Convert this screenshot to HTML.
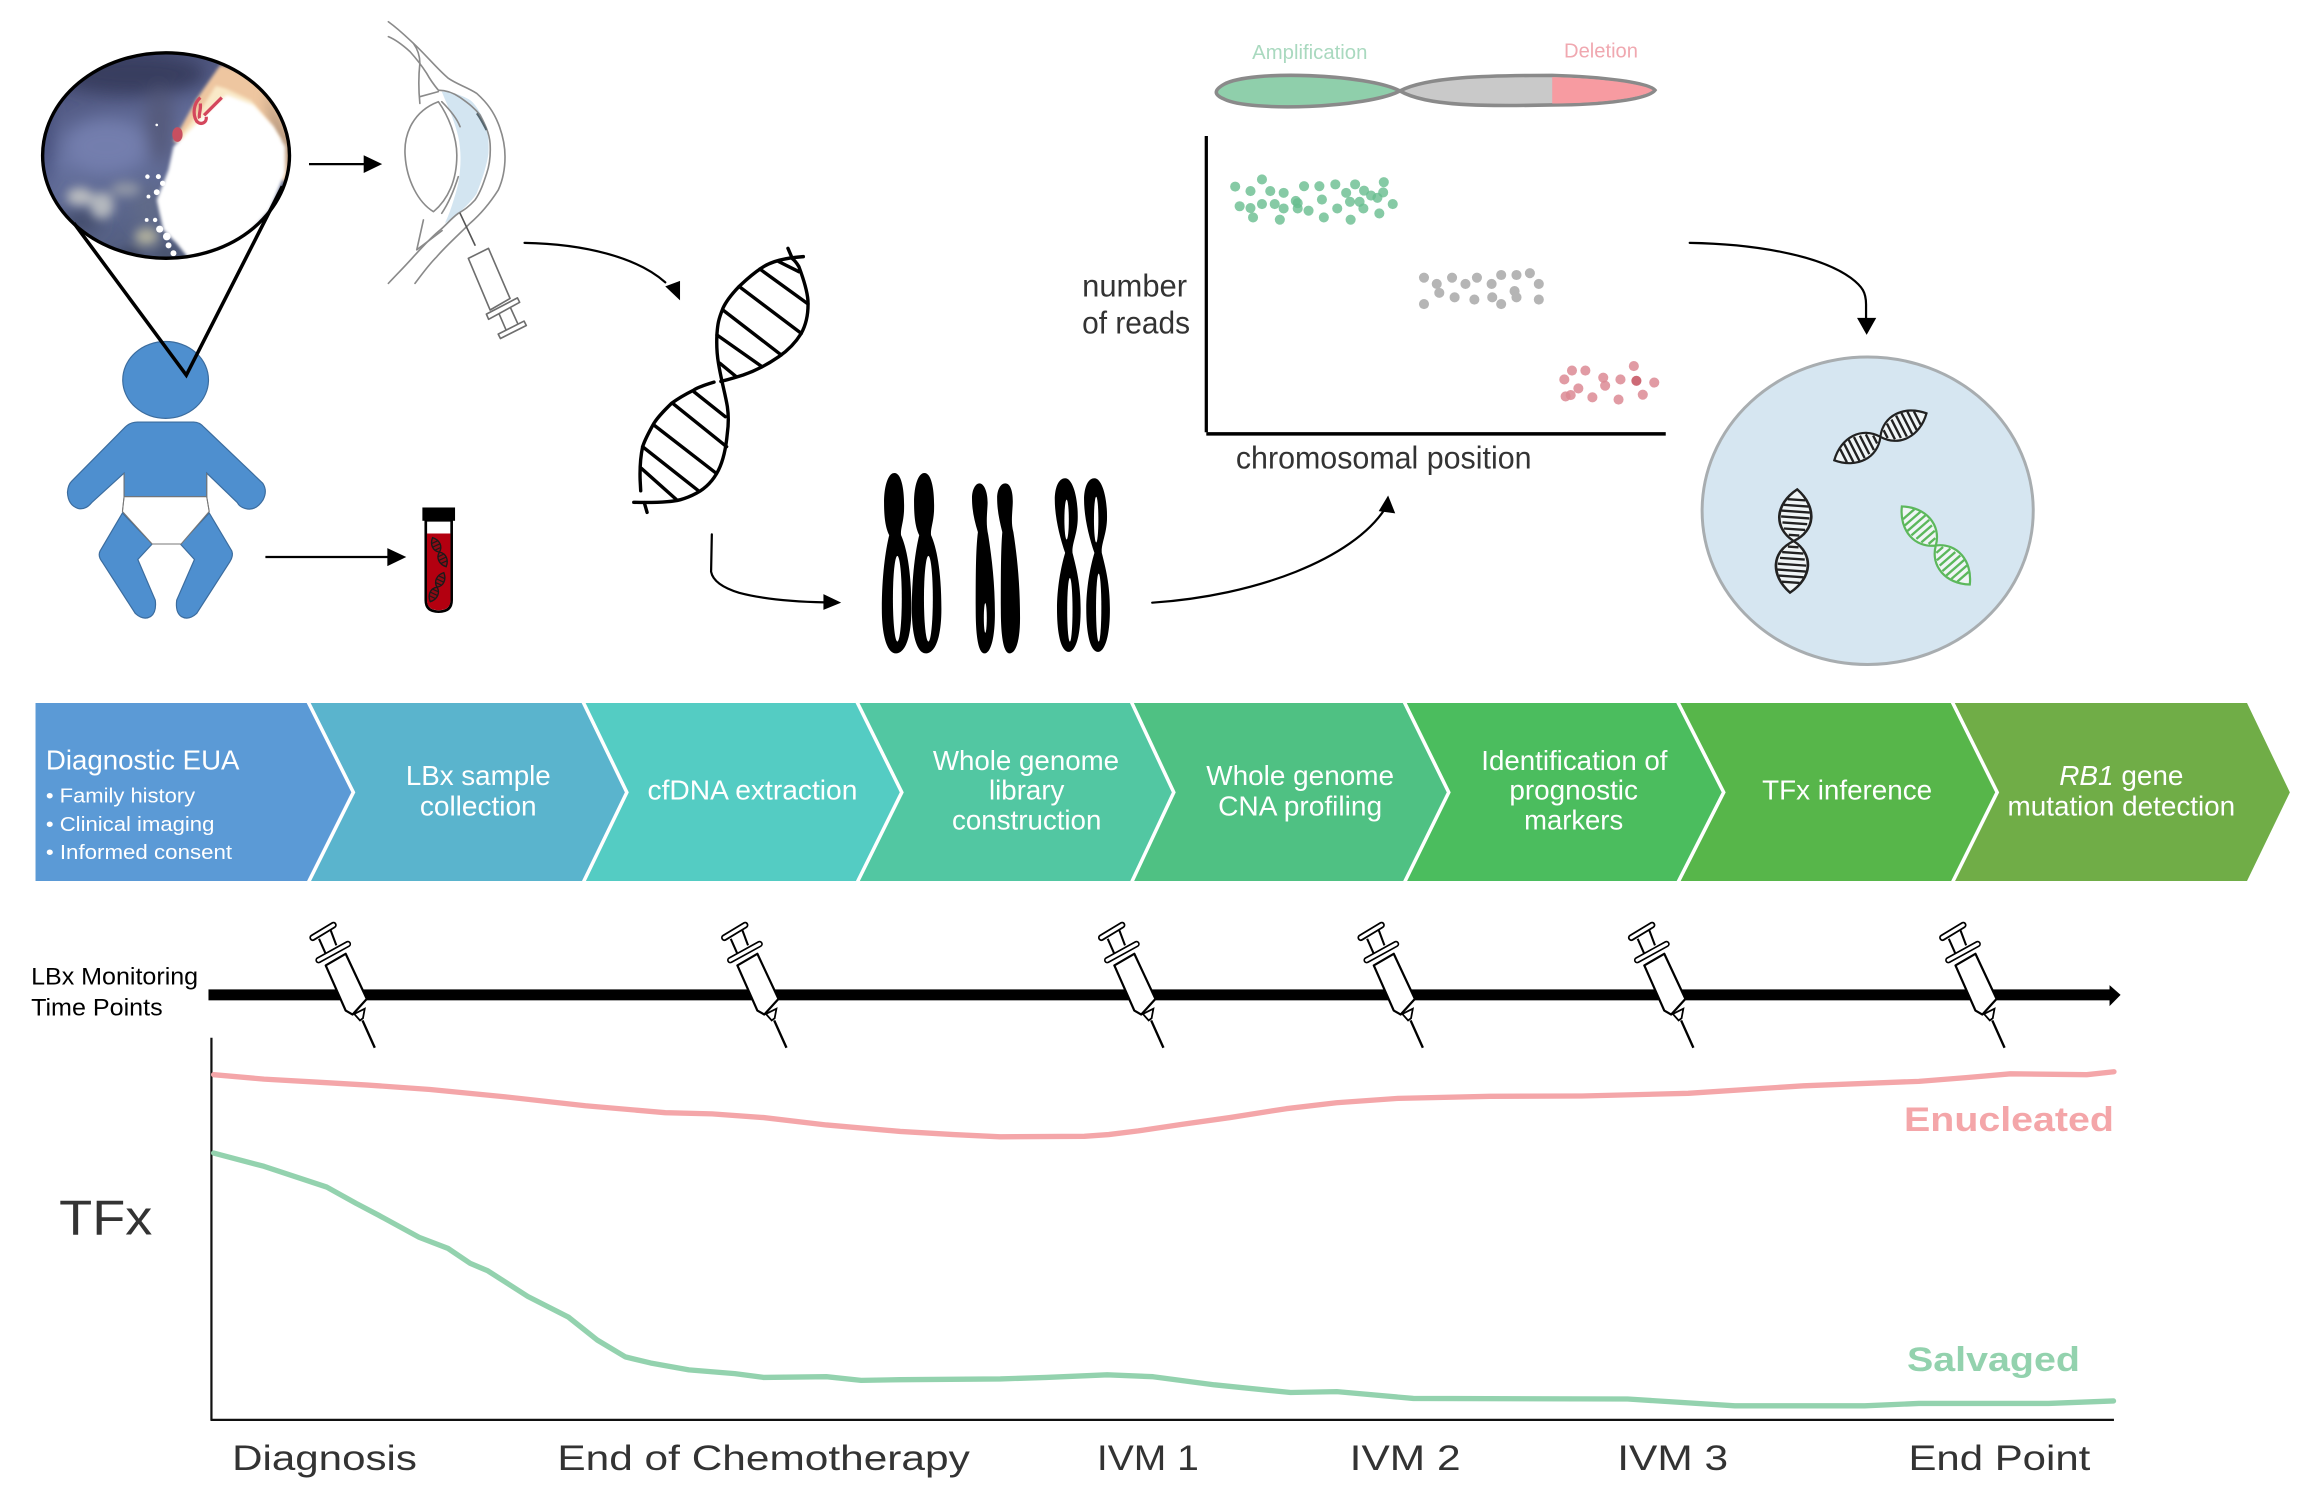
<!DOCTYPE html>
<html><head><meta charset="utf-8">
<style>
html,body{margin:0;padding:0;background:#fff}
svg{display:block}
text{font-family:"Liberation Sans",sans-serif}
.c{font-size:18.5px;fill:#fff;text-anchor:middle;font-weight:400}
.s{font-size:14px;fill:#fff}
.b{font-size:24px;fill:#333}
.p{fill:none;stroke-linejoin:round;stroke-linecap:round}
.dg ellipse,.dy ellipse,.dr ellipse{rx:7.9px;ry:11.3px}
</style></head><body>
<svg width="2318" height="1496" viewBox="0 0 1568 1012" xmlns="http://www.w3.org/2000/svg">
<defs>
<clipPath id="cp"><ellipse cx="112.3" cy="105.2" rx="83.5" ry="69.5"/></clipPath>
<filter id="bl" x="-50%" y="-50%" width="200%" height="200%"><feGaussianBlur stdDeviation="6"/></filter>
<filter id="bm" x="-50%" y="-50%" width="200%" height="200%"><feGaussianBlur stdDeviation="3.5"/></filter>
<filter id="bs" x="-50%" y="-50%" width="200%" height="200%"><feGaussianBlur stdDeviation="1.1"/></filter>
<linearGradient id="ph" x1="0" y1="0" x2="0.3" y2="1"><stop offset="0" stop-color="#3a3e63"/><stop offset=".5" stop-color="#6772a0"/><stop offset="1" stop-color="#4f5a7a"/></linearGradient>
<g id="syr">
<line x1="-42" y1="-74.500" x2="-28" y2="-83" stroke="#000" stroke-width="4.600" stroke-linecap="round"/>
<line x1="-42" y1="-74.500" x2="-28" y2="-83" stroke="#fff" stroke-width="2.200" stroke-linecap="round"/>
<line x1="-37.700" y1="-73.700" x2="-33.200" y2="-63.600" stroke="#000" stroke-width="1.400"/>
<line x1="-29.800" y1="-79.400" x2="-26" y2="-69.300" stroke="#000" stroke-width="1.400"/>
<path d="M-33.200,-55.700 L-19.700,-25.200 L-15,-22.500 L-5.400,-33.100 L-19.700,-63.600Z" fill="#fff" stroke="#000" stroke-width="1.500" stroke-linejoin="round"/>
<line x1="-38" y1="-59.300" x2="-18.200" y2="-70.200" stroke="#000" stroke-width="4.400" stroke-linecap="round"/>
<line x1="-38" y1="-59.300" x2="-18.200" y2="-70.200" stroke="#fff" stroke-width="2.200" stroke-linecap="round"/>
<path d="M-13.900,-22.900 L-6.800,-26.400 L-8,-20 L-10,-18.500Z" fill="#fff" stroke="#000" stroke-width="1.200"/>
<line x1="-8.300" y1="-18.500" x2="0" y2="0" stroke="#000" stroke-width="1.600"/>
</g>
<g id="mini">
<path d="M0,-35 C-12,-24 -12,-8 0,0 C12,-8 12,-24 0,-35Z M0,0 C-12,8 -12,24 0,35 C12,24 12,8 0,0Z" fill="#f5f7f7" fill-opacity=".85" stroke="currentColor" stroke-width="1.500"/>
<path d="M-5,-28H5M-7,-24H7M-8,-20H8M-8,-16H8M-7,-12H7M-6,-8H6M-3,-4H3M-3,4H3M-6,8H6M-7,12H7M-8,16H8M-8,20H8M-7,24H7M-5,28H5" stroke="currentColor" stroke-width="1.600" fill="none"/>
</g>
<g id="mini2">
<path d="M0,-35 C-12,-24 -12,-8 0,0 C12,-8 12,-24 0,-35Z M0,0 C-12,8 -12,24 0,35 C12,24 12,8 0,0Z" fill="#8f0a14" stroke="#1a1a1a" stroke-width="3"/>
<path d="M-7,-24H7M-8,-16H8M-6,-8H6M-6,8H6M-8,16H8M-7,24H7" stroke="#1a1a1a" stroke-width="2.500" fill="none"/>
</g>
</defs>
<rect width="1568" height="1012" fill="#fff"/>

<!-- retinal photo -->
<g clip-path="url(#cp)">
<rect x="20" y="30" width="185" height="155" fill="url(#ph)"/>
<g filter="url(#bl)">
<ellipse cx="90" cy="50" rx="50" ry="14" fill="#393c5f"/>
<ellipse cx="108" cy="85" rx="10" ry="26" fill="#555a7c"/>
<ellipse cx="72" cy="99" rx="28" ry="18" fill="#737ead"/>
<ellipse cx="30" cy="95" rx="5" ry="32" fill="#424c78"/>
<ellipse cx="55" cy="150" rx="14" ry="7" fill="#3f4a68"/>
<ellipse cx="100" cy="140" rx="10" ry="14" fill="#606b88"/>
</g>
<g filter="url(#bm)">
<ellipse cx="54" cy="133" rx="9" ry="6" fill="#b9bcc0"/>
<ellipse cx="69" cy="139" rx="8" ry="9" fill="#b4b8be"/>
<ellipse cx="85" cy="128" rx="10" ry="5" fill="#8f95a6"/>
<ellipse cx="99" cy="160" rx="8" ry="6" fill="#aeae9e"/>
<ellipse cx="88" cy="172" rx="9" ry="4" fill="#3f4a66"/>
<ellipse cx="112" cy="172" rx="7" ry="5" fill="#4a5470"/>
</g>
<path d="M149,44 L172,50 L200,90 L197,125 L150,100 L117,96 L133,67Z" fill="#eec6a0" filter="url(#bs)"/>
<path d="M178,62 L198,95 L196,125 L186,95Z" fill="#b89a80" filter="url(#bm)"/>
<path d="M146,58 L153,60 L170,68 L190,95 L150,100 L122,92 L136,74Z" fill="#f9e9c8" filter="url(#bs)"/>
<path d="M153.400,64.200 L171.400,71 L185,85.600 L192.800,99.200 L192.800,117.200 L182.700,142 L164.600,162.300 L128.600,176 L119.500,164.600 L110.500,155.600 L106,135.300 L113.900,115 L117.300,99.200 L128.600,87.900 L146.600,69.800Z" fill="#fff" filter="url(#bs)"/>
<path d="M135.500,66 C131,70 130,77 133,82 C136,85 140,83 139.500,79 M135.500,70 C136,75 134,78 135,80 M138,78 C142,74 146,70 150,66" fill="none" stroke="#d4465c" stroke-width="2.200"/>
<ellipse cx="120" cy="91" rx="3.500" ry="5" fill="#c84f60"/>
<g fill="#fff"><circle cx="99.700" cy="119.500" r="1.500"/><circle cx="107.100" cy="119.500" r="1.700"/><circle cx="106" cy="84.500" r=".9"/><circle cx="100.400" cy="133" r="1.300"/><circle cx="99.200" cy="148.800" r="1.300"/><circle cx="104.900" cy="148.800" r="1.500"/><circle cx="110" cy="124" r="1.800"/><circle cx="106" cy="130" r="2"/><circle cx="108" cy="155" r="2.400"/><circle cx="112.800" cy="160" r="2.600"/><circle cx="117.300" cy="171.300" r="2"/><circle cx="114" cy="166" r="2"/></g>
</g>
<ellipse cx="112.300" cy="105.200" rx="83.500" ry="69.500" fill="none" stroke="#000" stroke-width="2.300"/>

<!-- baby -->
<g fill="#4E8FCF" stroke="#3b6c9e" stroke-width=".8">
<ellipse cx="112" cy="257" rx="29" ry="26"/>
<path d="M93,285.500 H131 Q135,285.500 138,289 L177.800,327 Q181,332 178,338 Q173,346 166,344 Q162,343 160.500,340 L139.800,320 V336 H83.900 V320 L62,340 Q58,345 53,344 Q46,342 45.600,333 Q46,328 48.300,325.700 L84.600,289 Q88,285.500 93,285.500Z"/>
<path d="M82.800,347 L102.900,368 L93.200,378.500 L105,406 Q106,414 102,417 Q97,420 91.500,415 L69,380 Q66,376 67.700,372.700Z"/>
<path d="M141.500,347 L122,368 L131.500,378.500 L119.500,406 Q118.500,414 122.500,417 Q127.500,420 133,415 L155.500,380 Q158,376 156.800,372.700Z"/>
</g>
<path d="M83.900,336 H139.800 L141.500,346 L122.500,368 H102.900 L82.800,346Z" fill="#fff" stroke="#777" stroke-width=".7"/>
<path d="M83.900,320 V336 L82.800,346 M139.800,320 V336 L141.500,346" fill="none" stroke="#777" stroke-width=".7"/>

<!-- triangle -->
<polyline points="50,151 126,253.800 191,126" fill="none" stroke="#000" stroke-width="2.400" stroke-linejoin="miter"/>

<!-- straight arrows -->
<line x1="209" y1="111" x2="248" y2="111" stroke="#000" stroke-width="1.500"/>
<polygon points="246,105 258.500,111 246,117"/>
<line x1="179.500" y1="376.800" x2="264" y2="376.800" stroke="#000" stroke-width="1.500"/>
<polygon points="262,370.800 274.800,376.800 262,383"/>

<!-- tube -->
<path d="M288,352 H305.500 V406 Q305.500,413.800 296.700,413.800 Q288,413.800 288,406Z" fill="#fff" stroke="#000" stroke-width="1.800"/>
<path d="M288.800,360.900 H304.700 V406 Q304.700,412.800 296.700,412.800 Q288.800,412.800 288.800,406Z" fill="#b30010"/>
<rect x="285.700" y="343.300" width="22.100" height="9" fill="#000"/>
<use href="#mini2" transform="translate(297.200,373.500) rotate(-25) scale(.31)"/>
<use href="#mini2" transform="translate(295.600,397.200) rotate(25) scale(.31)"/>

<!-- eye -->
<path d="M298.800,62 C309,62 318,67.700 318,67.700 C324,72 329.200,85.700 329.200,85.700 C331,92 330.400,103.700 330.400,103.700 C329,115 322.500,130.800 322.500,130.800 C315,142 301,151 301,151 C306,141 310,124 310,124 C312,112 312,102 310,92.500 C307,80 302,70 298.800,62Z" fill="#d3e5f1"/>
<g class="p" stroke="#8a8a8a" stroke-width="1.100">
<path d="M262.700,14.700 C270,20 275,25 279.600,29.300 C288,37 296,47 303.300,53 C309,57 316,59 322.500,63.200 C330,70 334,76 337,83.500 C340,91 341.600,98 341.600,106 C341.600,115 340,122 337,128.600 C331,138 325,145 318,151 C310,159 302,166 295.400,173.700 C290,179 285,186 280.700,191.700"/>
<path d="M262.700,24.800 C268,27 273,31 277.400,35 C281,39 285,44 288.600,49.600 C291,54 294,58 296.500,61 C302,61 307,63 311.200,65.900 C317,70 321,73 324.700,77.800 C328,84 331,90 331.500,97 C332,105 331,112 329.200,117.300 C327,124 325,130 321.300,135.300 C317,140 314,142 310,144.300 C305,148 302,152 297.700,155.600 C291,161 285,168 279.600,173.700 C274,180 268,186 262.700,191.700"/>
<path d="M296.500,68.800 C280,75 273,90 274,105 C275,122 283,137 293.200,143.200 C303,135 309,122 309,105 C309,92 303,78 296.500,68.800Z"/>
<path d="M298.800,68.800 C305,75 309,80 311.200,85.700 M310,119.500 C307,129 303,138 298.800,144.300 M279.600,29.300 C283,34 284,38 284,42.800 C283,52 283,60 284,70 M284,65.400 L296.500,62 M286.400,148.800 L281.900,169 M281.900,169 L299,156"/>
</g>
<path d="M322.500,76.700 C325,80 327,84 329,88" fill="none" stroke="#55666f" stroke-width="1.300"/>
<g class="p" stroke="#6e6e6e" stroke-width="1.100">
<line x1="311.200" y1="144.300" x2="321.300" y2="165.800" stroke="#555"/>
<polygon points="316.800,174.800 330.400,168 345,201.900 331.500,209.700" fill="#fff"/>
<line x1="337" y1="210.900" x2="342.800" y2="224.400"/><line x1="345" y1="207.500" x2="350.700" y2="220"/>
<polygon points="329,212.500 350,201.500 351.500,204.500 330.500,216" fill="#fff"/>
<polygon points="337,226 354.500,217.200 356,220.200 338.500,229" fill="#fff"/>
</g>

<!-- curved arrow 3 -->
<path d="M354.800,164.300 C395,165 431,174 450,191" class="p" stroke="#000" stroke-width="1.500"/>
<polygon points="460,190 450,193.700 460,203.200"/>

<!-- big DNA -->
<g class="p" stroke="#000" stroke-width="2.300" stroke-linecap="butt">
<path d="M543.400,173.600 C530,174.500 521,177 514.800,181.500 C508,186 504,190 499.700,194 C494,200 491,204 489,208.600 C486,216 485.500,219 485,225.500 C484.500,234 485,240 486,245.800 C488,258 490.500,266 492,275 C493,282 492.700,288 492,293 C491,304 489,312 486,318 C482,326 476,331 471,333.700 C463,338 457,339 451.300,339.400 C444,340 436,340 428.700,339.800"/>
<path d="M533,168 L536,175 C538.500,177 539.500,179 540.400,180.400 C544,190 546,197 546.500,203 C547,212 545,220 542,225.500 C538,232 533,237 526.800,241.300 C520,246 512,250.500 502.700,253.700 C497,255.500 492,257 487.600,258"/>
<path d="M483,258.500 C478,260 473,261.500 469.400,263.800 C463,267 458,270 454.300,272.800 C449,278 445,282 442.300,286.400 C438,294 436,298 434.700,302.200 C433,310 432.800,318 433,324.700 L433.400,332 M435.800,340 L437.700,346.600"/>
<path d="M526.800,177 L540.400,183.800 M514,182 L546.500,205.600 M501,194.600 L542,225.500 M489,209.700 L528.400,240.100 M485,226.600 L515.400,248 M487,245.800 L498,254.800 M469.400,265 L490.600,281.900 M455,272.800 L491.500,302.200 M442.300,287.500 L484.500,320.200 M434.700,302.200 L472.500,332 M433.800,316.800 L457.400,337.800"/>
</g>

<!-- curved arrow 4 -->
<path d="M481.500,361.500 L481,386.700 C482,392 487,397 500,401 C515,405 535,407 558,407.500" class="p" stroke="#000" stroke-width="1.500"/>
<polygon points="557,401.900 569,407.700 557,412.600"/>

<!-- chromosomes -->
<g fill="#000">
<path id="c1" d="M605,320 C610,320 612,332 611.500,346 C611,354 609,358 609.500,362 C613,370 616.500,385 616.500,412 C616.500,432 612,442 606,442 C600,442 596.500,430 596.500,412 C596.500,390 599,372 601.500,362 C599.500,358 598,352 598,340 C598,328 601,320 605,320Z"/>
<path transform="translate(20.300 0)" d="M605,320 C610,320 612,332 611.500,346 C611,354 609,358 609.500,362 C613,370 616.500,385 616.500,412 C616.500,432 612,442 606,442 C600,442 596.500,430 596.500,412 C596.500,390 599,372 601.500,362 C599.500,358 598,352 598,340 C598,328 601,320 605,320Z"/>
<path d="M662.500,327 C666,327 668.500,334 668,342 C667.500,350 667,355 668.500,362 C671,378 673,395 673,415 C673,432 670,442 666,442 C662,442 660,432 660,412 C660,390 660,372 661.500,360 C659,352 657.500,345 657.500,337 C657.500,331 660,327 662.500,327Z"/>
<path d="M680,327 C684,327 685.500,334 685,342 C684.500,350 684,354 685.500,360 C688,376 690,395 690,418 C690,434 687,442 683,442 C679,442 677,432 677,412 C677,390 677,372 678,360 C676,352 674.500,345 674.500,337 C674.500,331 677,327 680,327Z"/>
<path d="M720.500,323.500 C726,323.500 729.500,338 729,352 C728.500,362 725,368 725.500,374 C728,384 731,395 731,412 C731,432 727,441 723,441 C718,441 715,430 715,412 C715,398 717.500,384 720.500,374 C717,364 713.500,350 713.500,338 C713.500,330 716,323.500 720.500,323.500Z"/>
<path transform="translate(19.800 0)" d="M720.500,323.500 C726,323.500 729.500,338 729,352 C728.500,362 725,368 725.500,374 C728,384 731,395 731,412 C731,432 727,441 723,441 C718,441 715,430 715,412 C715,398 717.500,384 720.500,374 C717,364 713.500,350 713.500,338 C713.500,330 716,323.500 720.500,323.500Z"/>
</g>
<g fill="#fff">
<ellipse cx="607" cy="405" rx="3" ry="29"/>
<ellipse cx="628" cy="405" rx="3" ry="29"/>
<ellipse cx="666.500" cy="418" rx="1" ry="10"/>
<ellipse cx="721.500" cy="351.500" rx="1.500" ry="13.500"/>
<ellipse cx="723.700" cy="412.500" rx="1.800" ry="21.500"/>
<ellipse cx="741.500" cy="351.500" rx="1.500" ry="15.500"/>
<ellipse cx="743.200" cy="411" rx="1.800" ry="23"/>
</g>

<!-- arrow 5 -->
<path d="M779.400,407.700 C850,403 915,378 937,344" class="p" stroke="#000" stroke-width="1.500"/>
<polygon points="939,335.200 932.600,345.800 943.800,347.300"/>

<!-- chromosome bar -->
<path d="M947,61.500 C925,50 846,47 828,57 C821,61 821,64 828,67 C846,76 925,73 947,61.500Z" fill="#8fcfab" stroke="#8a8a8a" stroke-width="2.400"/>
<path d="M947,61.500 C965,52 1005,51 1050,51 C1085,52 1115,56 1119.500,61 C1115,67 1085,71 1050,71 C1005,72 965,72 947,61.500Z" fill="#c9c9c9" stroke="#8a8a8a" stroke-width="2.400"/>
<path d="M1050,52.200 C1085,53 1112,57 1118,61 C1112,66 1085,69.800 1050,70Z" fill="#f79ba1"/>
<text x="847" y="40" font-size="14" fill="#a9d9bf" textLength="78" lengthAdjust="spacingAndGlyphs">Amplification</text>
<text x="1058" y="39" font-size="14" fill="#f0a8b0" textLength="50" lengthAdjust="spacingAndGlyphs">Deletion</text>

<!-- scatter -->
<line x1="816" y1="92" x2="816" y2="292.400" stroke="#000" stroke-width="2.200"/>
<line x1="816" y1="293.500" x2="1126.800" y2="293.500" stroke="#000" stroke-width="2.400"/>
<g transform="translate(710.400 0) scale(.4315 .302)">
<g class="dg" fill="#68bd8e" fill-opacity=".8">
<ellipse cx="290" cy="418"/><ellipse cx="332" cy="402"/><ellipse cx="314" cy="428"/><ellipse cx="345" cy="428"/><ellipse cx="366" cy="432"/><ellipse cx="398" cy="417"/><ellipse cx="422" cy="417"/><ellipse cx="447" cy="413"/><ellipse cx="478" cy="413"/><ellipse cx="523" cy="408"/><ellipse cx="492" cy="427"/><ellipse cx="464" cy="432"/><ellipse cx="522" cy="431"/><ellipse cx="503" cy="438"/><ellipse cx="513" cy="443"/><ellipse cx="385" cy="450"/><ellipse cx="426" cy="447"/><ellipse cx="470" cy="452"/><ellipse cx="485" cy="452"/><ellipse cx="537" cy="457"/><ellipse cx="297" cy="462"/><ellipse cx="314" cy="466"/><ellipse cx="332" cy="457"/><ellipse cx="352" cy="457"/><ellipse cx="366" cy="467"/><ellipse cx="388" cy="467"/><ellipse cx="405" cy="472"/><ellipse cx="450" cy="467"/><ellipse cx="491" cy="467"/><ellipse cx="516" cy="478"/><ellipse cx="318" cy="487"/><ellipse cx="360" cy="492"/><ellipse cx="429" cy="487"/><ellipse cx="471" cy="492"/><ellipse cx="388" cy="455"/>
</g>
<g class="dy" fill="#b5b5b5">
<ellipse cx="586" cy="622"/><ellipse cx="606" cy="636"/><ellipse cx="630" cy="622"/><ellipse cx="651" cy="636"/><ellipse cx="669" cy="622"/><ellipse cx="692" cy="636"/><ellipse cx="707" cy="616"/><ellipse cx="731" cy="616"/><ellipse cx="752" cy="612"/><ellipse cx="766" cy="636"/><ellipse cx="610" cy="656"/><ellipse cx="634" cy="666"/><ellipse cx="665" cy="671"/><ellipse cx="693" cy="666"/><ellipse cx="728" cy="652"/><ellipse cx="731" cy="666"/><ellipse cx="766" cy="671"/><ellipse cx="707" cy="681"/><ellipse cx="586" cy="681"/>
</g>
<g class="dr" fill="#dc8a94" fill-opacity=".85">
<ellipse cx="818" cy="830"/><ellipse cx="839" cy="830"/><ellipse cx="915" cy="820"/><ellipse cx="806" cy="850"/><ellipse cx="867" cy="846"/><ellipse cx="894" cy="850"/><ellipse cx="919" cy="853" fill="#c4505e"/><ellipse cx="947" cy="857"/><ellipse cx="870" cy="864"/><ellipse cx="828" cy="870"/><ellipse cx="816" cy="885"/><ellipse cx="808" cy="888"/><ellipse cx="850" cy="890"/><ellipse cx="891" cy="895"/><ellipse cx="929" cy="884"/>
</g>
</g>
<text x="732" y="200.500" font-size="21" fill="#333" textLength="71" lengthAdjust="spacingAndGlyphs">number</text>
<text x="732" y="225.500" font-size="21" fill="#333" textLength="73" lengthAdjust="spacingAndGlyphs">of reads</text>
<text x="836" y="317" font-size="21" fill="#333" textLength="200" lengthAdjust="spacingAndGlyphs">chromosomal position</text>

<!-- arrow 6 -->
<path d="M1143,164.300 C1185,165 1230,172 1252,188 C1260,194 1262.300,198 1262.300,206 L1262.300,216" class="p" stroke="#000" stroke-width="1.500"/>
<polygon points="1256.200,215 1269.200,215 1262.700,226.500"/>

<!-- plasma circle -->
<ellipse cx="1263.400" cy="345.500" rx="112" ry="104" fill="#d6e6f1" stroke="#a8adb0" stroke-width="2"/>
<use href="#mini" transform="translate(1272,295.500) rotate(63)" style="color:#222"/>
<use href="#mini" transform="translate(1213.300,366) rotate(4) scale(1.200,1)" style="color:#222"/>
<use href="#mini" transform="translate(1309.500,369) rotate(-41)" style="color:#5cb85c"/>

<!-- chevrons -->
<polygon points="24,475.600 208.500,475.600 239,536 208.500,596 24,596" fill="#5b9ad6"/>
<polygon points="208.500,475.600 394.500,475.600 424,536 394.500,596 208.500,596 239,536" fill="#5ab4cd"/>
<polygon points="394.500,475.600 579.800,475.600 610,536 579.800,596 394.500,596 424,536" fill="#54ccc3"/>
<polygon points="579.800,475.600 765.400,475.600 794,536 765.400,596 579.800,596 610,536" fill="#52c7a2"/>
<polygon points="765.400,475.600 950,475.600 980,536 950,596 765.400,596 794,536" fill="#4fc183"/>
<polygon points="950,475.600 1135,475.600 1166,536 1135,596 950,596 980,536" fill="#4bbd5e"/>
<polygon points="1135,475.600 1320.700,475.600 1351,536 1320.700,596 1135,596 1166,536" fill="#57b64a"/>
<polygon points="1320.700,475.600 1520,475.600 1549,536 1520,596 1320.700,596 1351,536" fill="#70ad47"/>
<g fill="none" stroke="#fff" stroke-width="2.400">
<polyline points="208.500,475 239,536 208.500,597"/><polyline points="394.500,475 424,536 394.500,597"/><polyline points="579.800,475 610,536 579.800,597"/><polyline points="765.400,475 794,536 765.400,597"/><polyline points="950,475 980,536 950,597"/><polyline points="1135,475 1166,536 1135,597"/><polyline points="1320.700,475 1351,536 1320.700,597"/>
</g>
<text x="31" y="520.500" font-size="18.500" fill="#fff" textLength="131" lengthAdjust="spacingAndGlyphs">Diagnostic EUA</text>
<text class="s" x="31" y="543" textLength="101" lengthAdjust="spacingAndGlyphs">• Family history</text>
<text class="s" x="31" y="562" textLength="114" lengthAdjust="spacingAndGlyphs">• Clinical imaging</text>
<text class="s" x="31" y="581" textLength="126" lengthAdjust="spacingAndGlyphs">• Informed consent</text>
<text class="c" x="323.500" y="531" textLength="98" lengthAdjust="spacingAndGlyphs">LBx sample</text>
<text class="c" x="323.500" y="551.500" textLength="79" lengthAdjust="spacingAndGlyphs">collection</text>
<text class="c" x="509" y="541" textLength="142" lengthAdjust="spacingAndGlyphs">cfDNA extraction</text>
<text class="c" x="694" y="521" textLength="126" lengthAdjust="spacingAndGlyphs">Whole genome</text>
<text class="c" x="694.500" y="541" textLength="51" lengthAdjust="spacingAndGlyphs">library</text>
<text class="c" x="694.500" y="561" textLength="101" lengthAdjust="spacingAndGlyphs">construction</text>
<text class="c" x="879.500" y="531" textLength="127" lengthAdjust="spacingAndGlyphs">Whole genome</text>
<text class="c" x="879.500" y="551.500" textLength="111" lengthAdjust="spacingAndGlyphs">CNA profiling</text>
<text class="c" x="1065" y="521" textLength="126" lengthAdjust="spacingAndGlyphs">Identification of</text>
<text class="c" x="1064.500" y="541" textLength="87" lengthAdjust="spacingAndGlyphs">prognostic</text>
<text class="c" x="1064.500" y="561" textLength="67" lengthAdjust="spacingAndGlyphs">markers</text>
<text class="c" x="1249.500" y="541" textLength="115" lengthAdjust="spacingAndGlyphs">TFx inference</text>
<text class="c" x="1435" y="531" textLength="84" lengthAdjust="spacingAndGlyphs"><tspan font-style="italic">RB1</tspan> gene</text>
<text class="c" x="1435" y="551.500" textLength="154" lengthAdjust="spacingAndGlyphs">mutation detection</text>

<!-- timeline -->
<text x="21" y="666" font-size="16" fill="#000" textLength="113" lengthAdjust="spacingAndGlyphs">LBx Monitoring</text>
<text x="21" y="687" font-size="16" fill="#000" textLength="89" lengthAdjust="spacingAndGlyphs">Time Points</text>
<rect x="141" y="669.300" width="1287" height="7.400" fill="#000"/>
<polygon points="1427,666.400 1434.500,673 1427,680.600"/>
<use href="#syr" x="253.500" y="708.800"/>
<use href="#syr" x="532" y="708.800"/>
<use href="#syr" x="787" y="708.800"/>
<use href="#syr" x="962.500" y="708.800"/>
<use href="#syr" x="1145.500" y="708.800"/>
<use href="#syr" x="1356" y="708.800"/>

<!-- TFx chart -->
<line x1="143" y1="702" x2="143" y2="961" stroke="#111" stroke-width="1.500"/>
<line x1="142.500" y1="960.500" x2="1430" y2="960.500" stroke="#111" stroke-width="1.500"/>
<polyline class="p" stroke="#f4a6a9" stroke-width="3.600" points="144.500,727 178.600,730 213.600,732 248.500,734 291,737 342,742 396,748 450,752.700 481.600,753.500 516.500,756 559,761 609,765.400 645,767.500 676.600,769 733.500,768.700 750,767.500 770,765 800,760.500 832,756 870,750 904,746 946,743 1008,741.600 1070,741.400 1142,739.600 1220,734.500 1298,731.500 1330,729 1360,726.400 1411.600,727 1430,725"/>
<polyline class="p" stroke="#93d2ae" stroke-width="3.600" points="144.500,780 178.600,789 221,803 240.800,814 256,822 283.500,837 303,844.500 318,854.600 330,859.700 357,877 384.500,891 404,906.500 423,917.900 440,922 466,926.700 497,929.200 516.500,931.800 559,931.300 582.500,933.800 609,933.300 676.600,932.800 707.700,931.800 749,930 780,931.300 821.500,936.800 873,942 904.300,941.400 956,946 1101,946.400 1173.500,951 1261.500,951 1298,949.400 1385.700,949.400 1429.700,947.700"/>
<text x="1288" y="765" font-size="23" font-weight="700" fill="#f4a6a9" textLength="142" lengthAdjust="spacingAndGlyphs">Enucleated</text>
<text x="1290" y="927.500" font-size="23" font-weight="700" fill="#93d2ae" textLength="117" lengthAdjust="spacingAndGlyphs">Salvaged</text>
<text x="40" y="835" font-size="33" fill="#333" textLength="63" lengthAdjust="spacingAndGlyphs">TFx</text>
<text class="b" x="157" y="994.500" textLength="125" lengthAdjust="spacingAndGlyphs">Diagnosis</text>
<text class="b" x="377" y="994.500" textLength="279" lengthAdjust="spacingAndGlyphs">End of Chemotherapy</text>
<text class="b" x="742" y="994.500" textLength="69" lengthAdjust="spacingAndGlyphs">IVM 1</text>
<text class="b" x="913" y="994.500" textLength="75" lengthAdjust="spacingAndGlyphs">IVM 2</text>
<text class="b" x="1094" y="994.500" textLength="75" lengthAdjust="spacingAndGlyphs">IVM 3</text>
<text class="b" x="1291" y="994.500" textLength="123" lengthAdjust="spacingAndGlyphs">End Point</text>
</svg>
</body></html>
